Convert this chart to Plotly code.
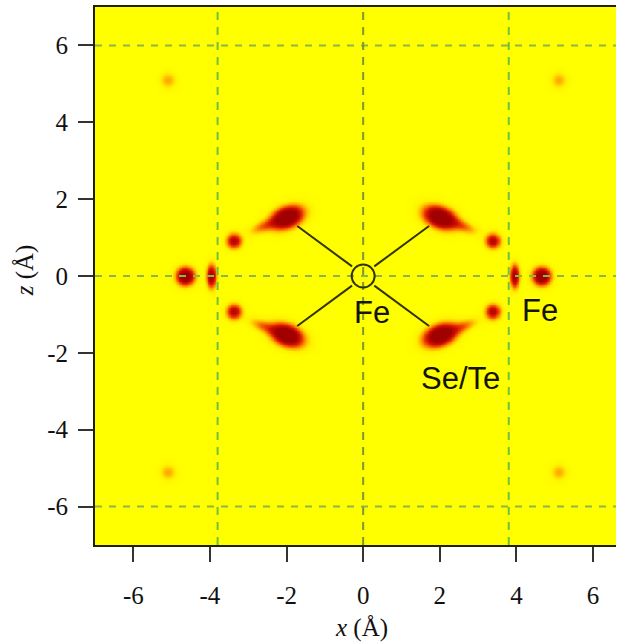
import numpy as np
import plotly.graph_objects as go

# ---- data ----
# round atom-like density spots: x, z, amplitude, sigma_x, sigma_z
spot_x = [-4.65, 4.65, -3.97, 3.95, -3.38, 3.38, -3.38, 3.38, -5.1, 5.1, -5.1, 5.1]
spot_z = [0.0, 0.0, 0.0, 0.0, 0.92, 0.92, -0.92, -0.92, 5.1, 5.1, -5.1, -5.1]
spot_amp = [1.3, 1.3, 1.0, 1.0, 0.85, 0.85, 0.85, 0.85, 0.25, 0.25, 0.25, 0.25]
spot_sx = [0.15, 0.15, 0.08, 0.08, 0.13, 0.13, 0.13, 0.13, 0.14, 0.14, 0.14, 0.14]
spot_sz = [0.15, 0.15, 0.2, 0.2, 0.13, 0.13, 0.13, 0.13, 0.14, 0.14, 0.14, 0.14]

# Se/Te tear-drop spots: head position, tilt (deg), tail position
head_x = [-2.0, 2.0, -2.0, 2.0]
head_z = [1.53, 1.53, -1.53, -1.53]
head_tilt = [22, -22, -22, 22]
tail_x = [-2.6, 2.6, -2.6, 2.6]
tail_z = [1.3, 1.3, -1.3, -1.3]

# bonds drawn from the central Fe to the Se/Te spots
bond_x0 = [-0.29, 0.29, -0.29, 0.29]
bond_z0 = [0.25, 0.25, -0.25, -0.25]
bond_x1 = [-1.72, 1.72, -1.72, 1.72]
bond_z1 = [1.3, 1.3, -1.3, -1.3]

# text labels
label_text = ["Fe", "Fe", "Se/Te"]
label_x = [0.22, 4.62, 2.53]
label_z = [-0.96, -0.9, -2.68]

guide_z = [6, 0, -6]
guide_x = [-3.8, 0, 3.8]

tick_vals = [-6, -4, -2, 0, 2, 4, 6]
tick_text = ["-6", "-4", "-2", "0", "2", "4", "6"]

# ---- density grid ----
gx = np.linspace(-7, 7, 351)
gz = np.linspace(-7, 7, 351)
X, Z = np.meshgrid(gx, gz)
D = np.zeros_like(X)
for x0, z0, a, sx, sz in zip(spot_x, spot_z, spot_amp, spot_sx, spot_sz):
    D += a * np.exp(-((X - x0) ** 2 / (2 * sx ** 2) + (Z - z0) ** 2 / (2 * sz ** 2)))
for hx, hz, t, tx, tz in zip(head_x, head_z, head_tilt, tail_x, tail_z):
    th = np.deg2rad(t)
    c, s = np.cos(th), np.sin(th)
    dx, dz = X - hx, Z - hz
    u = dx * c + dz * s
    v = -dx * s + dz * c
    D += 1.5 * np.exp(-(u ** 2 / (2 * 0.28 ** 2) + v ** 2 / (2 * 0.17 ** 2)))
    dx, dz = X - tx, Z - tz
    u = dx * c + dz * s
    v = -dx * s + dz * c
    D += 0.35 * np.exp(-(u ** 2 / (2 * 0.26 ** 2) + v ** 2 / (2 * 0.1 ** 2)))
D = np.clip(D, 0, 1)

colorscale = [
    [0.0, "#FFFF00"],
    [0.1, "#FFEE00"],
    [0.25, "#FFA800"],
    [0.45, "#F04800"],
    [0.65, "#D01000"],
    [1.0, "#A00000"],
]

fig = go.Figure()
fig.add_trace(go.Heatmap(x=gx, y=gz, z=D, colorscale=colorscale, zmin=0, zmax=1,
                         zsmooth="best", showscale=False, hoverinfo="skip"))

# dashed guide lines
for zv in guide_z:
    fig.add_shape(type="line", x0=-7, x1=7, y0=zv, y1=zv, xref="x", yref="y",
                  line=dict(color="#88B848", width=2, dash="7px,7px"))
for xv in guide_x:
    fig.add_shape(type="line", x0=xv, x1=xv, y0=-7, y1=7, xref="x", yref="y",
                  line=dict(color="#7A9A30" if xv == 0 else "#70C040", width=2, dash="8px,7px"))

# bonds
bx, bz = [], []
for a, b, c, d in zip(bond_x0, bond_z0, bond_x1, bond_z1):
    bx += [a, c, None]
    bz += [b, d, None]
fig.add_trace(go.Scatter(x=bx, y=bz, mode="lines", line=dict(color="#333300", width=2),
                         hoverinfo="skip", showlegend=False))
fig.add_shape(type="circle", x0=-0.3, x1=0.3, y0=-0.3, y1=0.3, xref="x", yref="y",
              line=dict(color="#333300", width=2))

lab_font = dict(family="Liberation Sans", size=31, color="#141400")
for t, lx, lz in zip(label_text, label_x, label_z):
    fig.add_annotation(x=lx, y=lz, text=t, showarrow=False, font=lab_font)

tick_font = dict(family="Liberation Serif", size=25, color="#111111")
fig.add_annotation(xref="paper", yref="paper", x=0.512, y=-0.154, text="<i>x</i> (Å)",
                   showarrow=False, font=tick_font, xanchor="center", yanchor="middle")
fig.add_annotation(xref="paper", yref="paper", x=-0.134, y=0.511, text="<i>z</i> (Å)",
                   showarrow=False, font=tick_font, textangle=-90,
                   xanchor="center", yanchor="middle")

fig.update_xaxes(range=[-7, 6.6], tickvals=tick_vals, ticktext=tick_text,
                 ticks="outside", ticklen=15, tickwidth=1.5, tickcolor="#333333",
                 showline=True, linecolor="#222200", linewidth=2, mirror=True,
                 showgrid=False, zeroline=False, tickfont=tick_font, ticklabelstandoff=12,
                 automargin=False)
fig.update_yaxes(range=[-7, 7], tickvals=tick_vals, ticktext=tick_text,
                 ticks="outside", ticklen=15, tickwidth=1.5, tickcolor="#333333",
                 showline=True, linecolor="#222200", linewidth=2,
                 showgrid=False, zeroline=False, tickfont=tick_font, ticklabelstandoff=5,
                 automargin=False)

fig.update_layout(width=619, height=644, margin=dict(l=95, r=3, t=7, b=99),
                  plot_bgcolor="#FFFF00", paper_bgcolor="white", showlegend=False,
                  font=dict(family="Liberation Serif"))

fig.write_html("out.html", config={"displayModeBar": False},
               post_script="document.body.style.margin='0';document.body.style.overflow='hidden';")
